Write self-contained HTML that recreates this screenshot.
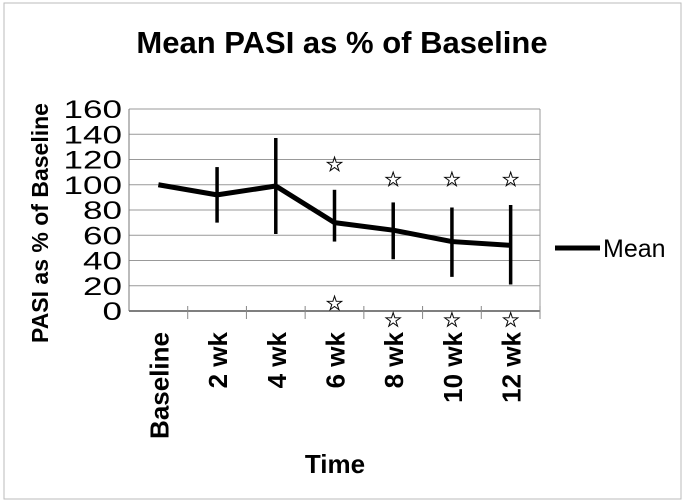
<!DOCTYPE html>
<html><head><meta charset="utf-8"><style>
body{margin:0;background:#fff;}
svg{display:block;font-family:"Liberation Sans",Arial,sans-serif;}
</style></head><body>
<svg id="chart" width="685" height="504">
<rect x="4" y="3" width="677" height="496" fill="none" stroke="#bbb" stroke-width="1"/>
<text x="342" y="53" text-anchor="middle" font-size="31" font-weight="bold">Mean PASI as % of Baseline</text>
<text transform="translate(48,223) rotate(-90)" text-anchor="middle" font-size="23" font-weight="bold">PASI as % of Baseline</text>
<text x="335" y="473" text-anchor="middle" font-size="26" font-weight="bold">Time</text>
<g id="grid"></g><g id="axes"></g><g id="marks"></g>
<line x1="555" y1="248" x2="600" y2="248" stroke="#000" stroke-width="5"/>
<text x="603" y="257" font-size="25">Mean</text>
</svg>
<script>
const categories=["Baseline","2 wk","4 wk","6 wk","8 wk","10 wk","12 wk"];
const meanValues=[100,92,99,70,64,55,52];
const errLow=[null,70,61,55,41,27,21];
const errHigh=[null,114,137,96,86,82,84];
const starHigh=[null,null,null,116,104,104,104];
const starLow=[null,null,null,6,-7,-7,-7];
const yTicks=[0,20,40,60,80,100,120,140,160];
const NS="http://www.w3.org/2000/svg";
const L=129,R=540,T=109,B=311,yMax=160;
const bw=(R-L)/categories.length;
const x=i=>L+bw*(i+0.5);
const y=v=>B-(v/yMax)*(B-T);
function mk(tag,attrs,parent,txt){const e=document.createElementNS(NS,tag);for(const k in attrs)e.setAttribute(k,attrs[k]);if(txt!=null)e.textContent=txt;parent.appendChild(e);return e;}
const grid=document.getElementById('grid'),axes=document.getElementById('axes'),marks=document.getElementById('marks');
yTicks.forEach(t=>{
 const g=mk('line',{x1:L,x2:R,y1:y(t),y2:y(t),stroke:t===0?'#555':'#999','stroke-width':t===0?1.5:1},grid);
 
 
 const s=String(t);
 const lb=mk('text',{x:L-7,y:y(t)+9,'text-anchor':'end','font-size':25,textLength:s.length*19.5,lengthAdjust:'spacingAndGlyphs'},axes,s);
 
 
});
const ax=mk('line',{x1:L,x2:L,y1:T,y2:B,stroke:'#777'},axes);


const rb=mk('line',{x1:R,x2:R,y1:T,y2:B+8,stroke:'#999'},axes);


categories.forEach((c,i)=>{
 const tk=mk('line',{x1:L+bw*(i+1),x2:L+bw*(i+1),y1:B-5,y2:B+8,stroke:'#888'},axes);
 
 
 const lb=mk('text',{transform:`translate(${x(i)+10},332) rotate(-90)`,'text-anchor':'end','font-size':26,'font-weight':'bold'},axes,c);
 
 
});
const pl=mk('polyline',{points:meanValues.map((v,i)=>x(i)+','+y(v)).join(' '),fill:'none',stroke:'#000','stroke-width':5,'stroke-linejoin':'round'},marks);


categories.forEach((c,i)=>{
 if(errLow[i]!=null){
  const e=mk('line',{x1:x(i),x2:x(i),y1:y(errLow[i]),y2:y(errHigh[i]),stroke:'#000','stroke-width':3.5},marks);
  
  
 }
 [starHigh[i],starLow[i]].forEach(v=>{
  if(v==null)return;
  const s=mk('text',{x:x(i),y:y(v)+7,'text-anchor':'middle','font-size':21,fill:'#000',stroke:'#000','stroke-width':0.4,'font-family':'DejaVu Sans'},marks,'☆');
  
  
 });
});
</script>
</body></html>
